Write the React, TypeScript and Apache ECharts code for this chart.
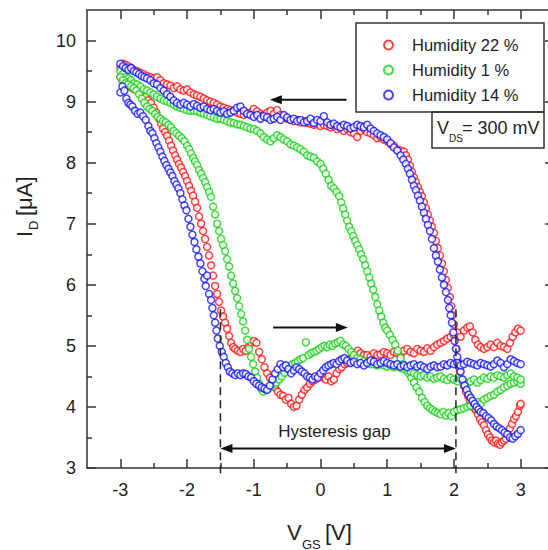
import React, { useEffect, useRef } from "react";
import * as echarts from "echarts";

const FONT = "'Liberation Sans', Arial, sans-serif";

const seriesNames = ["Humidity 22 %", "Humidity 1 %", "Humidity 14 %"];
const seriesColors = ["#ff1414", "#14d214", "#1414ff"];

const xMajorTicks = [-3, -2, -1, 0, 1, 2, 3];
const xMinorTicks = [-2.5, -1.5, -0.5, 0.5, 1.5, 2.5];
const yMajorTicks = [3, 4, 5, 6, 7, 8, 9, 10];
const yMinorTicks = [3.5, 4.5, 5.5, 6.5, 7.5, 8.5, 9.5];

// Humidity 22 % : upper branch (sweep 3 V -> -3 V)
const red22Upper: number[][] = [
  [-3.0, 9.55], [-2.96, 9.62], [-2.92, 9.6], [-2.88, 9.58], [-2.84, 9.55], [-2.8, 9.52], [-2.75, 9.5], [-2.7, 9.47],
  [-2.65, 9.45], [-2.6, 9.42], [-2.55, 9.4], [-2.5, 9.38], [-2.45, 9.4], [-2.4, 9.35], [-2.35, 9.3], [-2.3, 9.28],
  [-2.25, 9.26], [-2.2, 9.22], [-2.15, 9.25], [-2.1, 9.2], [-2.05, 9.18], [-2.0, 9.2], [-1.95, 9.15], [-1.9, 9.12],
  [-1.85, 9.1], [-1.8, 9.08], [-1.75, 9.05], [-1.7, 9.02], [-1.65, 9.0], [-1.6, 8.98], [-1.55, 8.95], [-1.5, 8.92],
  [-1.45, 8.9], [-1.4, 8.88], [-1.35, 8.86], [-1.3, 8.85], [-1.25, 8.82], [-1.2, 8.8], [-1.15, 8.78], [-1.1, 8.8],
  [-1.05, 8.82], [-1.0, 8.88], [-0.95, 8.84], [-0.9, 8.8], [-0.85, 8.78], [-0.8, 8.82], [-0.75, 8.85], [-0.7, 8.8],
  [-0.65, 8.86], [-0.6, 8.78], [-0.55, 8.75], [-0.5, 8.72], [-0.45, 8.7], [-0.4, 8.68], [-0.35, 8.7], [-0.3, 8.66],
  [-0.25, 8.68], [-0.2, 8.65], [-0.15, 8.64], [-0.1, 8.62], [-0.05, 8.63], [0.0, 8.6], [0.05, 8.62], [0.1, 8.6],
  [0.15, 8.58], [0.2, 8.6], [0.25, 8.55], [0.3, 8.57], [0.35, 8.52], [0.4, 8.55], [0.45, 8.5], [0.5, 8.48],
  [0.55, 8.42], [0.6, 8.52], [0.65, 8.55], [0.7, 8.5], [0.75, 8.48], [0.8, 8.45], [0.85, 8.4], [0.9, 8.42],
  [0.95, 8.38], [1.0, 8.35], [1.05, 8.3], [1.1, 8.28], [1.15, 8.22], [1.2, 8.2], [1.25, 8.18], [1.28, 8.12],
  [1.31, 8.05], [1.34, 7.95], [1.37, 7.85], [1.4, 7.76], [1.43, 7.68], [1.46, 7.6], [1.49, 7.52], [1.52, 7.45],
  [1.55, 7.35], [1.58, 7.25], [1.61, 7.15], [1.64, 7.05], [1.67, 6.95], [1.7, 6.85], [1.73, 6.72], [1.76, 6.6],
  [1.79, 6.48], [1.82, 6.35], [1.85, 6.22], [1.88, 6.08], [1.91, 5.95], [1.94, 5.8], [1.96, 5.65], [1.98, 5.5],
  [2.0, 5.35], [2.02, 5.15], [2.04, 4.95], [2.06, 4.75], [2.09, 4.58], [2.12, 4.45], [2.15, 4.35], [2.18, 4.25],
  [2.21, 4.18], [2.24, 4.1], [2.27, 4.05], [2.3, 3.98], [2.33, 3.95], [2.36, 3.88], [2.39, 3.8], [2.42, 3.75],
  [2.45, 3.7], [2.48, 3.62], [2.51, 3.55], [2.54, 3.5], [2.57, 3.45], [2.6, 3.42], [2.63, 3.45], [2.66, 3.4],
  [2.69, 3.38], [2.72, 3.42], [2.75, 3.45], [2.78, 3.48], [2.81, 3.55], [2.84, 3.65], [2.87, 3.72], [2.9, 3.8],
  [2.93, 3.85], [2.96, 3.92], [2.99, 4.02], [3.0, 4.05],
];

// Humidity 22 % : lower branch (sweep -3 V -> 3 V)
const red22Lower: number[][] = [
  [-3.0, 9.4], [-2.97, 9.35], [-2.94, 9.3], [-2.9, 9.28], [-2.86, 9.25], [-2.82, 9.22], [-2.78, 9.2], [-2.74, 9.18],
  [-2.7, 9.15], [-2.66, 9.12], [-2.62, 9.08], [-2.58, 9.02], [-2.54, 8.98], [-2.5, 8.9], [-2.46, 8.82], [-2.42, 8.72],
  [-2.39, 8.64], [-2.36, 8.56], [-2.33, 8.5], [-2.3, 8.44], [-2.27, 8.36], [-2.24, 8.28], [-2.21, 8.2], [-2.18, 8.12],
  [-2.15, 8.05], [-2.12, 7.98], [-2.09, 7.92], [-2.06, 7.85], [-2.03, 7.78], [-2.0, 7.7], [-1.97, 7.62], [-1.94, 7.54],
  [-1.91, 7.46], [-1.88, 7.36], [-1.85, 7.26], [-1.82, 7.12], [-1.79, 7.0], [-1.76, 6.88], [-1.73, 6.75], [-1.7, 6.62],
  [-1.67, 6.48], [-1.64, 6.32], [-1.61, 6.15], [-1.58, 5.98], [-1.55, 5.85], [-1.52, 5.72], [-1.49, 5.58], [-1.46, 5.48],
  [-1.43, 5.38], [-1.4, 5.28], [-1.37, 5.16], [-1.34, 5.05], [-1.31, 4.98], [-1.28, 4.95], [-1.24, 4.92], [-1.2, 4.9],
  [-1.16, 4.95], [-1.12, 4.92], [-1.08, 4.98], [-1.04, 5.05], [-1.0, 5.08], [-0.96, 5.05], [-0.92, 4.9], [-0.88, 4.78],
  [-0.84, 4.65], [-0.8, 4.55], [-0.76, 4.48], [-0.72, 4.4], [-0.68, 4.32], [-0.64, 4.25], [-0.6, 4.2], [-0.56, 4.18],
  [-0.52, 4.12], [-0.48, 4.15], [-0.44, 4.05], [-0.4, 4.0], [-0.36, 4.02], [-0.32, 4.12], [-0.28, 4.2], [-0.24, 4.28],
  [-0.2, 4.32], [-0.16, 4.38], [-0.12, 4.42], [-0.08, 4.45], [-0.04, 4.48], [0.0, 4.5], [0.04, 4.48], [0.08, 4.45],
  [0.12, 4.5], [0.16, 4.42], [0.2, 4.45], [0.24, 4.55], [0.28, 4.62], [0.32, 4.65], [0.36, 4.7], [0.4, 4.72],
  [0.44, 4.78], [0.48, 4.82], [0.52, 4.88], [0.56, 4.92], [0.6, 4.88], [0.65, 4.85], [0.7, 4.85], [0.75, 4.82],
  [0.8, 4.88], [0.85, 4.85], [0.9, 4.86], [0.95, 4.9], [1.0, 4.88], [1.05, 4.85], [1.1, 4.9], [1.15, 4.88],
  [1.2, 4.86], [1.25, 4.92], [1.3, 4.95], [1.35, 4.9], [1.4, 4.88], [1.45, 4.95], [1.5, 4.92], [1.55, 4.9],
  [1.6, 4.96], [1.65, 4.92], [1.7, 4.98], [1.75, 5.02], [1.8, 5.05], [1.85, 5.08], [1.9, 5.12], [1.95, 5.15],
  [2.0, 5.18], [2.05, 5.22], [2.1, 5.15], [2.15, 5.25], [2.2, 5.3], [2.24, 5.32], [2.28, 5.22], [2.32, 5.1],
  [2.36, 5.02], [2.4, 4.98], [2.45, 4.95], [2.5, 4.98], [2.55, 5.02], [2.6, 4.98], [2.65, 5.05], [2.7, 5.0],
  [2.75, 4.98], [2.8, 4.95], [2.84, 5.05], [2.88, 5.15], [2.92, 5.22], [2.96, 5.28], [3.0, 5.25],
];

// Humidity 1 % : upper branch
const green1Upper: number[][] = [
  [-3.0, 9.5], [-2.96, 9.45], [-2.92, 9.4], [-2.88, 9.38], [-2.84, 9.35], [-2.8, 9.3], [-2.75, 9.28], [-2.7, 9.25],
  [-2.65, 9.2], [-2.6, 9.18], [-2.55, 9.15], [-2.5, 9.12], [-2.45, 9.08], [-2.4, 9.05], [-2.35, 9.02], [-2.3, 9.0],
  [-2.25, 8.98], [-2.2, 8.95], [-2.15, 8.92], [-2.1, 8.9], [-2.05, 8.88], [-2.0, 8.86], [-1.95, 8.85], [-1.9, 8.85],
  [-1.85, 8.84], [-1.8, 8.82], [-1.75, 8.8], [-1.7, 8.78], [-1.65, 8.76], [-1.6, 8.74], [-1.55, 8.72], [-1.5, 8.72],
  [-1.45, 8.7], [-1.4, 8.68], [-1.35, 8.66], [-1.3, 8.65], [-1.25, 8.63], [-1.2, 8.62], [-1.15, 8.6], [-1.1, 8.58],
  [-1.05, 8.56], [-1.0, 8.55], [-0.95, 8.52], [-0.9, 8.48], [-0.85, 8.42], [-0.8, 8.38], [-0.75, 8.35], [-0.7, 8.4],
  [-0.65, 8.45], [-0.6, 8.42], [-0.55, 8.38], [-0.5, 8.35], [-0.45, 8.3], [-0.4, 8.28], [-0.35, 8.25], [-0.3, 8.22],
  [-0.25, 8.18], [-0.2, 8.12], [-0.15, 8.1], [-0.1, 8.08], [-0.05, 8.02], [0.0, 7.98], [0.04, 7.9], [0.08, 7.82],
  [0.12, 7.72], [0.16, 7.62], [0.2, 7.58], [0.24, 7.52], [0.28, 7.45], [0.31, 7.35], [0.34, 7.25], [0.37, 7.15],
  [0.4, 7.05], [0.43, 6.95], [0.46, 6.88], [0.49, 6.8], [0.52, 6.72], [0.55, 6.65], [0.58, 6.58], [0.61, 6.5],
  [0.64, 6.42], [0.67, 6.32], [0.7, 6.22], [0.73, 6.12], [0.76, 6.02], [0.79, 5.92], [0.82, 5.8], [0.85, 5.68],
  [0.88, 5.58], [0.91, 5.48], [0.94, 5.38], [0.97, 5.3], [1.0, 5.25], [1.04, 5.18], [1.08, 5.1], [1.12, 5.02],
  [1.16, 4.92], [1.2, 4.8], [1.24, 4.7], [1.28, 4.62], [1.32, 4.55], [1.36, 4.48], [1.4, 4.4], [1.44, 4.32],
  [1.48, 4.25], [1.52, 4.15], [1.56, 4.08], [1.6, 4.02], [1.64, 3.98], [1.68, 3.95], [1.72, 3.92], [1.76, 3.9],
  [1.8, 3.88], [1.84, 3.92], [1.88, 3.86], [1.92, 3.9], [1.96, 3.85], [2.0, 3.92], [2.05, 3.95], [2.1, 3.96],
  [2.15, 3.98], [2.2, 4.0], [2.25, 4.02], [2.3, 4.05], [2.35, 4.08], [2.4, 4.05], [2.45, 4.12], [2.5, 4.15],
  [2.55, 4.18], [2.6, 4.2], [2.65, 4.25], [2.7, 4.28], [2.75, 4.32], [2.8, 4.35], [2.85, 4.38], [2.9, 4.4],
  [2.95, 4.42], [3.0, 4.38],
];

// Humidity 1 % : lower branch
const green1Lower: number[][] = [
  [-3.0, 9.4], [-2.96, 9.35], [-2.92, 9.3], [-2.88, 9.28], [-2.84, 9.25], [-2.8, 9.22], [-2.76, 9.18], [-2.72, 9.12],
  [-2.68, 9.05], [-2.64, 8.98], [-2.6, 8.92], [-2.56, 8.88], [-2.52, 8.85], [-2.48, 8.8], [-2.44, 8.75], [-2.4, 8.72],
  [-2.36, 8.68], [-2.32, 8.66], [-2.28, 8.62], [-2.24, 8.58], [-2.2, 8.52], [-2.16, 8.48], [-2.12, 8.44], [-2.08, 8.4],
  [-2.04, 8.35], [-2.0, 8.28], [-1.97, 8.22], [-1.94, 8.15], [-1.91, 8.08], [-1.88, 8.02], [-1.85, 7.96], [-1.82, 7.88],
  [-1.79, 7.82], [-1.76, 7.75], [-1.73, 7.68], [-1.7, 7.6], [-1.67, 7.52], [-1.64, 7.44], [-1.61, 7.28], [-1.58, 7.15],
  [-1.55, 7.0], [-1.52, 6.88], [-1.49, 6.75], [-1.46, 6.65], [-1.43, 6.55], [-1.4, 6.42], [-1.37, 6.3], [-1.34, 6.15],
  [-1.31, 6.02], [-1.28, 5.9], [-1.25, 5.78], [-1.22, 5.65], [-1.19, 5.52], [-1.16, 5.4], [-1.13, 5.25], [-1.1, 5.1],
  [-1.07, 4.95], [-1.04, 4.82], [-1.01, 4.7], [-0.98, 4.58], [-0.95, 4.48], [-0.92, 4.38], [-0.89, 4.3], [-0.86, 4.25],
  [-0.82, 4.28], [-0.78, 4.3], [-0.74, 4.35], [-0.7, 4.38], [-0.66, 4.4], [-0.62, 4.45], [-0.58, 4.5], [-0.54, 4.56],
  [-0.5, 4.62], [-0.46, 4.66], [-0.42, 4.7], [-0.38, 4.72], [-0.34, 4.75], [-0.3, 4.78], [-0.26, 4.8], [-0.22, 5.06],
  [-0.18, 4.85], [-0.14, 4.88], [-0.1, 4.9], [-0.06, 4.92], [-0.02, 4.95], [0.02, 4.98], [0.06, 5.0], [0.1, 4.98],
  [0.14, 5.02], [0.18, 5.0], [0.22, 5.04], [0.26, 5.06], [0.3, 5.08], [0.34, 5.02], [0.38, 5.0], [0.42, 4.95],
  [0.46, 4.9], [0.5, 4.85], [0.55, 4.8], [0.6, 4.78], [0.65, 4.75], [0.7, 4.72], [0.75, 4.7], [0.8, 4.7],
  [0.85, 4.68], [0.9, 4.7], [0.95, 4.68], [1.0, 4.66], [1.05, 4.68], [1.1, 4.65], [1.15, 4.66], [1.2, 4.64],
  [1.25, 4.62], [1.3, 4.6], [1.35, 4.58], [1.4, 4.55], [1.45, 4.52], [1.5, 4.5], [1.55, 4.52], [1.6, 4.48],
  [1.65, 4.5], [1.7, 4.46], [1.75, 4.48], [1.8, 4.5], [1.85, 4.46], [1.9, 4.44], [1.95, 4.48], [2.0, 4.45],
  [2.05, 4.42], [2.1, 4.46], [2.15, 4.4], [2.2, 4.38], [2.25, 4.42], [2.3, 4.45], [2.35, 4.4], [2.4, 4.44],
  [2.45, 4.48], [2.5, 4.46], [2.55, 4.5], [2.6, 4.48], [2.65, 4.52], [2.7, 4.5], [2.75, 4.48], [2.8, 4.52],
  [2.85, 4.55], [2.9, 4.5], [2.95, 4.48], [3.0, 4.45],
];

// Humidity 14 % : upper branch
const blue14Upper: number[][] = [
  [-3.0, 9.62], [-2.96, 9.58], [-2.92, 9.55], [-2.88, 9.52], [-2.84, 9.55], [-2.8, 9.5], [-2.76, 9.48], [-2.72, 9.45],
  [-2.68, 9.42], [-2.64, 9.4], [-2.6, 9.38], [-2.55, 9.35], [-2.5, 9.3], [-2.45, 9.28], [-2.4, 9.22], [-2.35, 9.18],
  [-2.3, 9.12], [-2.25, 9.08], [-2.2, 9.02], [-2.15, 8.98], [-2.1, 8.95], [-2.05, 8.98], [-2.0, 8.95], [-1.95, 8.92],
  [-1.9, 8.96], [-1.85, 8.93], [-1.8, 8.9], [-1.75, 8.92], [-1.7, 8.88], [-1.65, 8.86], [-1.6, 8.88], [-1.55, 8.85],
  [-1.5, 8.82], [-1.45, 8.84], [-1.4, 8.8], [-1.35, 8.82], [-1.3, 8.85], [-1.25, 8.9], [-1.2, 8.92], [-1.15, 8.85],
  [-1.1, 8.8], [-1.05, 8.78], [-1.0, 8.75], [-0.95, 8.78], [-0.9, 8.72], [-0.85, 8.76], [-0.8, 8.74], [-0.75, 8.7],
  [-0.7, 8.72], [-0.65, 8.75], [-0.6, 8.7], [-0.55, 8.78], [-0.5, 8.74], [-0.45, 8.7], [-0.4, 8.72], [-0.35, 8.68],
  [-0.3, 8.7], [-0.25, 8.66], [-0.2, 8.68], [-0.15, 8.72], [-0.1, 8.65], [-0.05, 8.7], [0.0, 8.68], [0.05, 8.76],
  [0.1, 8.66], [0.15, 8.62], [0.2, 8.64], [0.25, 8.6], [0.3, 8.58], [0.35, 8.62], [0.4, 8.6], [0.45, 8.56],
  [0.5, 8.58], [0.55, 8.62], [0.6, 8.6], [0.65, 8.58], [0.7, 8.62], [0.75, 8.56], [0.8, 8.52], [0.85, 8.48],
  [0.9, 8.45], [0.95, 8.42], [1.0, 8.38], [1.05, 8.32], [1.1, 8.25], [1.15, 8.2], [1.2, 8.12], [1.24, 8.05],
  [1.28, 7.98], [1.31, 7.9], [1.34, 7.82], [1.37, 7.72], [1.4, 7.62], [1.43, 7.55], [1.46, 7.46], [1.49, 7.38],
  [1.52, 7.28], [1.55, 7.18], [1.58, 7.08], [1.61, 6.98], [1.64, 6.88], [1.67, 6.75], [1.7, 6.6], [1.73, 6.48],
  [1.76, 6.38], [1.79, 6.25], [1.82, 6.12], [1.85, 6.0], [1.88, 5.88], [1.91, 5.75], [1.93, 5.62], [1.95, 5.5],
  [1.97, 5.38], [1.99, 5.22], [2.01, 5.08], [2.03, 4.95], [2.05, 4.82], [2.07, 4.7], [2.1, 4.58], [2.13, 4.45],
  [2.16, 4.35], [2.19, 4.28], [2.22, 4.2], [2.25, 4.15], [2.28, 4.1], [2.31, 4.05], [2.34, 4.0], [2.37, 3.96],
  [2.4, 3.92], [2.44, 3.9], [2.48, 3.85], [2.52, 3.82], [2.56, 3.78], [2.6, 3.72], [2.64, 3.68], [2.68, 3.65],
  [2.72, 3.62], [2.76, 3.58], [2.8, 3.55], [2.84, 3.5], [2.88, 3.48], [2.92, 3.52], [2.96, 3.56], [3.0, 3.62],
];

// Humidity 14 % : lower branch
const blue14Lower: number[][] = [
  [-3.0, 9.15], [-2.97, 9.25], [-2.94, 9.18], [-2.91, 9.05], [-2.88, 8.98], [-2.85, 8.95], [-2.82, 8.92], [-2.78, 8.85],
  [-2.74, 8.8], [-2.7, 8.82], [-2.66, 8.76], [-2.62, 8.7], [-2.58, 8.6], [-2.55, 8.52], [-2.52, 8.48], [-2.49, 8.4],
  [-2.46, 8.32], [-2.43, 8.25], [-2.4, 8.18], [-2.37, 8.1], [-2.34, 8.03], [-2.31, 7.96], [-2.28, 7.9], [-2.25, 7.84],
  [-2.22, 7.78], [-2.19, 7.7], [-2.16, 7.64], [-2.13, 7.58], [-2.1, 7.5], [-2.07, 7.4], [-2.04, 7.3], [-2.01, 7.22],
  [-1.98, 7.08], [-1.95, 6.95], [-1.92, 6.82], [-1.89, 6.7], [-1.86, 6.58], [-1.83, 6.46], [-1.8, 6.35], [-1.77, 6.22],
  [-1.74, 6.1], [-1.72, 5.98], [-1.7, 6.15], [-1.67, 5.85], [-1.64, 5.75], [-1.62, 5.62], [-1.6, 5.5], [-1.58, 5.38],
  [-1.56, 5.25], [-1.54, 5.12], [-1.51, 5.0], [-1.48, 4.9], [-1.45, 4.82], [-1.42, 4.72], [-1.39, 4.65], [-1.36, 4.58],
  [-1.32, 4.55], [-1.28, 4.52], [-1.24, 4.55], [-1.2, 4.52], [-1.16, 4.55], [-1.12, 4.54], [-1.08, 4.5], [-1.04, 4.48],
  [-1.0, 4.42], [-0.96, 4.38], [-0.92, 4.35], [-0.88, 4.32], [-0.84, 4.3], [-0.8, 4.28], [-0.76, 4.35], [-0.72, 4.45],
  [-0.68, 4.55], [-0.64, 4.62], [-0.6, 4.7], [-0.56, 4.65], [-0.52, 4.68], [-0.48, 4.62], [-0.44, 4.55], [-0.4, 4.6],
  [-0.36, 4.65], [-0.32, 4.62], [-0.28, 4.58], [-0.24, 4.55], [-0.2, 4.5], [-0.16, 4.48], [-0.12, 4.45], [-0.08, 4.5],
  [-0.04, 4.48], [0.0, 4.55], [0.04, 4.6], [0.08, 4.65], [0.12, 4.68], [0.16, 4.7], [0.2, 4.72], [0.24, 4.7],
  [0.28, 4.75], [0.32, 4.78], [0.36, 4.8], [0.4, 4.76], [0.45, 4.72], [0.5, 4.74], [0.55, 4.7], [0.6, 4.72],
  [0.65, 4.68], [0.7, 4.72], [0.75, 4.76], [0.8, 4.74], [0.85, 4.7], [0.9, 4.72], [0.95, 4.75], [1.0, 4.72],
  [1.05, 4.7], [1.1, 4.68], [1.15, 4.7], [1.2, 4.66], [1.25, 4.68], [1.3, 4.65], [1.35, 4.68], [1.4, 4.7],
  [1.45, 4.66], [1.5, 4.68], [1.55, 4.65], [1.6, 4.62], [1.65, 4.66], [1.7, 4.68], [1.75, 4.65], [1.8, 4.66],
  [1.85, 4.7], [1.9, 4.68], [1.95, 4.72], [2.0, 4.7], [2.05, 4.72], [2.1, 4.68], [2.15, 4.7], [2.2, 4.74],
  [2.25, 4.72], [2.3, 4.7], [2.35, 4.68], [2.4, 4.72], [2.45, 4.7], [2.5, 4.68], [2.55, 4.66], [2.6, 4.7],
  [2.65, 4.76], [2.7, 4.72], [2.75, 4.65], [2.8, 4.7], [2.85, 4.78], [2.9, 4.75], [2.95, 4.72], [3.0, 4.7],
];

const seriesData = [
  [...red22Upper, ...red22Lower],
  [...green1Upper, ...green1Lower],
  [...blue14Upper, ...blue14Lower],
];

// annotation anchors (data units)
const gapStart = -1.5;
const gapEnd = 2.03;
const gapArrowY = 3.32;
const dashTopY = 5.6;
const dashBottomY = 2.85;
const gapLabel = { v: 0.21, i: 3.6, text: "Hysteresis gap" };
const sweepBackArrow = { from: 0.39, to: -0.76, i: 9.03 };
const sweepFwdArrow = { from: -0.71, to: 0.41, i: 5.3 };

const GRID = { left: 87, top: 10, width: 467, height: 458, outerBoundsMode: "none", containLabel: false };
const AX = "#333";

function xAxisDef(grid: number, pos: string, ticks: number[], len: number, labels: boolean, line: boolean) {
  return {
    type: "value", gridIndex: grid, position: pos, min: -3.5, max: 3.5,
    axisLine: { show: line, onZero: false, lineStyle: { color: AX, width: 1.5 } },
    axisTick: { show: true, inside: true, length: len, customValues: ticks, lineStyle: { color: AX, width: 1.5 } },
    axisLabel: labels
      ? { show: true, customValues: ticks, fontSize: 18, color: "#222", fontFamily: FONT, margin: 13 }
      : { show: false },
    splitLine: { show: false },
  };
}
function yAxisDef(grid: number, pos: string, ticks: number[], len: number, labels: boolean, line: boolean) {
  return {
    type: "value", gridIndex: grid, position: pos, min: 3, max: 10.5,
    axisLine: { show: line, onZero: false, lineStyle: { color: AX, width: 1.5 } },
    axisTick: { show: true, inside: true, length: len, customValues: ticks, lineStyle: { color: AX, width: 1.5 } },
    axisLabel: labels
      ? { show: true, customValues: ticks, fontSize: 18, color: "#222", fontFamily: FONT, margin: 11 }
      : { show: false },
    splitLine: { show: false },
  };
}

export default function App() {
  const ref = useRef<HTMLDivElement>(null);
  useEffect(() => {
    if (!ref.current) return;
    const chart = echarts.init(ref.current, null, { renderer: "svg" });
    chart.setOption({
      animation: false,
      backgroundColor: "#ffffff",
      textStyle: { fontFamily: FONT },
      grid: [{ ...GRID }, { ...GRID }],
      xAxis: [
        xAxisDef(0, "bottom", xMajorTicks, 9, true, true),
        xAxisDef(0, "top", xMajorTicks, 9, false, true),
        xAxisDef(1, "bottom", xMinorTicks, 5, false, false),
        xAxisDef(1, "top", xMinorTicks, 5, false, false),
      ],
      yAxis: [
        yAxisDef(0, "left", yMajorTicks, 9, true, true),
        yAxisDef(0, "right", yMajorTicks, 9, false, true),
        yAxisDef(1, "left", yMinorTicks, 5, false, false),
        yAxisDef(1, "right", yMinorTicks, 5, false, false),
      ],
      legend: {
        orient: "vertical", left: 383, top: 36, padding: 0,
        itemWidth: 9, itemHeight: 9, itemGap: 7, selectedMode: false,
        textStyle: { fontSize: 16.5, color: "#222", lineHeight: 18, fontFamily: FONT, padding: [0, 0, 0, 14] },
        data: seriesNames,
      },
      series: seriesNames.map((name, k) => ({
        name, type: "scatter", xAxisIndex: 0, yAxisIndex: 0,
        symbol: "circle", symbolSize: 7,
        data: seriesData[k],
        itemStyle: { color: "#ffffff", borderColor: seriesColors[k], borderWidth: 1.5 },
        emphasis: { disabled: true },
      })),
    });

    const p = (v: number, i: number) => chart.convertToPixel({ gridIndex: 0 }, [v, i]) as number[];
    const stroke = { stroke: "#111", lineWidth: 2 };
    const head = (tip: number[], dir: number) => ({
      type: "polygon", z: 10,
      shape: { points: [[tip[0], tip[1]], [tip[0] - dir * 12, tip[1] - 4.5], [tip[0] - dir * 12, tip[1] + 4.5]] },
      style: { fill: "#111" },
    });
    const a1 = p(sweepBackArrow.from, sweepBackArrow.i);
    const a2 = p(sweepBackArrow.to, sweepBackArrow.i);
    const b1 = p(sweepFwdArrow.from, sweepFwdArrow.i);
    const b2 = p(sweepFwdArrow.to, sweepFwdArrow.i);
    const g1 = p(gapStart, gapArrowY);
    const g2 = p(gapEnd, gapArrowY);
    const d1t = p(gapStart, dashTopY), d1b = p(gapStart, dashBottomY);
    const d2t = p(gapEnd, dashTopY), d2b = p(gapEnd, dashBottomY);
    const lab = p(gapLabel.v, gapLabel.i);

    chart.setOption({
      graphic: [
        { type: "line", z: 10, shape: { x1: d1t[0], y1: d1t[1], x2: d1b[0], y2: d1b[1] }, style: { stroke: "#222", lineWidth: 1.5, lineDash: [8, 5] } },
        { type: "line", z: 10, shape: { x1: d2t[0], y1: d2t[1], x2: d2b[0], y2: d2b[1] }, style: { stroke: "#222", lineWidth: 1.5, lineDash: [8, 5] } },
        { type: "line", z: 10, shape: { x1: g1[0] + 6, y1: g1[1], x2: g2[0] - 6, y2: g2[1] }, style: stroke },
        head(g1, -1), head(g2, 1),
        { type: "text", z: 10, x: lab[0], y: lab[1], style: { text: gapLabel.text, fontSize: 17, fill: "#222", fontFamily: FONT, align: "center", verticalAlign: "middle" } },
        { type: "line", z: 10, shape: { x1: a1[0], y1: a1[1], x2: a2[0] + 6, y2: a2[1] }, style: stroke },
        head(a2, -1),
        { type: "line", z: 10, shape: { x1: b1[0], y1: b1[1], x2: b2[0] - 6, y2: b2[1] }, style: stroke },
        head(b2, 1),
        // legend frame
        { type: "rect", z: 1, shape: { x: 356, y: 23, width: 188, height: 89 }, style: { fill: "transparent", stroke: AX, lineWidth: 1.5 } },
        // V_DS frame
        { type: "rect", z: 1, shape: { x: 432, y: 112, width: 112, height: 36 }, style: { fill: "transparent", stroke: AX, lineWidth: 1.5 } },
        { type: "text", z: 10, x: 437, y: 128, style: { text: "V", fontSize: 18, fill: "#222", fontFamily: FONT, verticalAlign: "middle" } },
        { type: "text", z: 10, x: 449, y: 138, style: { text: "DS", fontSize: 10, fill: "#222", fontFamily: FONT, verticalAlign: "middle" } },
        { type: "text", z: 10, x: 462, y: 128, style: { text: "= 300 mV", fontSize: 18, fill: "#222", fontFamily: FONT, verticalAlign: "middle" } },
        // x axis title
        { type: "text", z: 10, x: 287, y: 532, style: { text: "V", fontSize: 22, fill: "#222", fontFamily: FONT, verticalAlign: "middle" } },
        { type: "text", z: 10, x: 302, y: 544, style: { text: "GS", fontSize: 13, fill: "#222", fontFamily: FONT, verticalAlign: "middle" } },
        { type: "text", z: 10, x: 325, y: 532, style: { text: "[V]", fontSize: 22, fill: "#222", fontFamily: FONT, verticalAlign: "middle" } },
        // y axis title
        {
          type: "group", x: 24, y: 204, rotation: Math.PI / 2,
          children: [
            { type: "text", z: 10, x: -33, y: 0, style: { text: "I", fontSize: 22, fill: "#222", fontFamily: FONT, verticalAlign: "middle" } },
            { type: "text", z: 10, x: -26, y: 9, style: { text: "D", fontSize: 13, fill: "#222", fontFamily: FONT, verticalAlign: "middle" } },
            { type: "text", z: 10, x: -12, y: 0, style: { text: "[\u03bcA]", fontSize: 22, fill: "#222", fontFamily: FONT, verticalAlign: "middle" } },
          ],
        },
      ],
    });
    return () => chart.dispose();
  }, []);
  return <div ref={ref} style={{ position: "absolute", left: 0, top: 0, width: 548, height: 550 }} />;
}
